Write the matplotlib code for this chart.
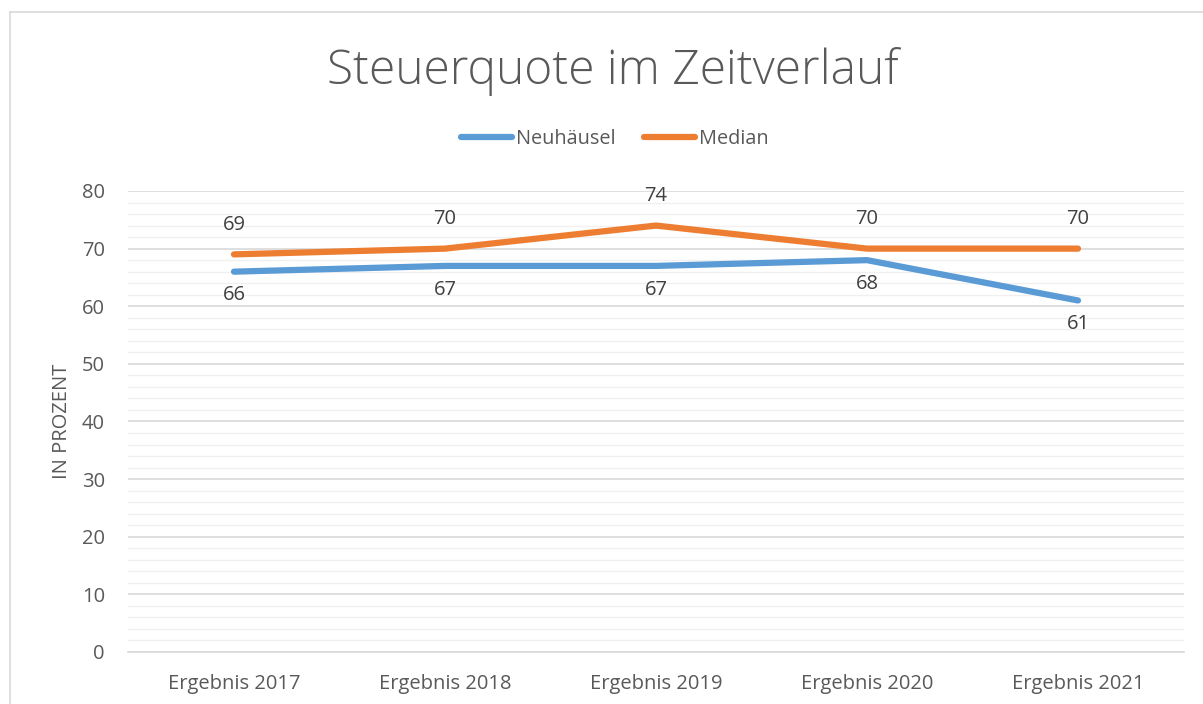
import numpy as np
from matplotlib import pyplot as plt
from matplotlib.lines import Line2D

categories = ['Ergebnis 2017', 'Ergebnis 2018', 'Ergebnis 2019', 'Ergebnis 2020', 'Ergebnis 2021']
neuhaeusel = [66, 67, 67, 68, 61]
median = [69, 70, 74, 70, 70]

blue = '#5B9BD5'
orange = '#ED7D31'
grey = '#595959'

plt.rcParams['font.family'] = ['Open Sans', 'DejaVu Sans']

fig = plt.figure(figsize=[12.03, 7.04], dpi=100)
ax = fig.add_axes([0.1068, 0.0739, 0.877, 0.6548])

x = np.arange(len(categories))
ax.plot(x, neuhaeusel, color=blue, lw=4.5, solid_capstyle='round', zorder=3)
ax.plot(x, median, color=orange, lw=4.5, solid_capstyle='round', zorder=3)

#data labels: median above, neuhaeusel below
for xi, v in zip(x, median):
    ax.annotate(str(v), (xi, v), xytext=(0, 21), textcoords='offset points',
                ha='center', va='center', fontsize=14.5, color='#404040')
for xi, v in zip(x, neuhaeusel):
    ax.annotate(str(v), (xi, v), xytext=(0, -17), textcoords='offset points',
                ha='center', va='center', fontsize=14.5, color='#404040')

ax.set_xlim(-0.5, len(categories) - 0.5)
ax.set_ylim(0, 80)
ax.set_yticks(range(0, 81, 10))
ax.set_yticks(range(0, 81, 2), minor=True)
ax.set_xticks(x)
ax.set_xticklabels(categories)
ax.grid(axis='y', which='major', color='#D9D9D9', lw=1.2)
ax.grid(axis='y', which='minor', color='#F0F0F0', lw=1.0)
ax.set_axisbelow(True)
for s in ['top', 'right', 'left']:
    ax.spines[s].set_visible(False)
ax.spines['bottom'].set_color('#D9D9D9')
ax.spines['bottom'].set_linewidth(1.2)
ax.tick_params(axis='both', which='both', length=0, labelsize=14.5, colors=grey)
ax.tick_params(axis='x', pad=16)
ax.tick_params(axis='y', pad=17)
ax.set_ylabel('IN PROZENT', fontsize=14.5, color=grey, va='center')
ax.yaxis.set_label_coords(-0.063, 0.5)

fig.text(0.509, 0.898, 'Steuerquote im Zeitverlauf', ha='center', va='center',
         fontsize=34.5, color=grey, fontweight='light')

handles = [Line2D([], [], color=blue, lw=4.5, solid_capstyle='round'),
           Line2D([], [], color=orange, lw=4.5, solid_capstyle='round')]
fig.legend(handles, ['Neuhäusel', 'Median'], loc='center', bbox_to_anchor=(0.511, 0.802),
           ncol=2, frameon=False, fontsize=14.3, labelcolor=grey, handlelength=2.6,
           handletextpad=0.2, columnspacing=1.4)

#outer chart border (left and top only visible in crop)
fig.add_artist(Line2D([10 / 1203, 10 / 1203], [0, 1 - 12 / 704], color='#D9D9D9', lw=1.2))
fig.add_artist(Line2D([10 / 1203, 1], [1 - 12 / 704, 1 - 12 / 704], color='#D9D9D9', lw=1.2))

fig.savefig('out.png', dpi=100)
